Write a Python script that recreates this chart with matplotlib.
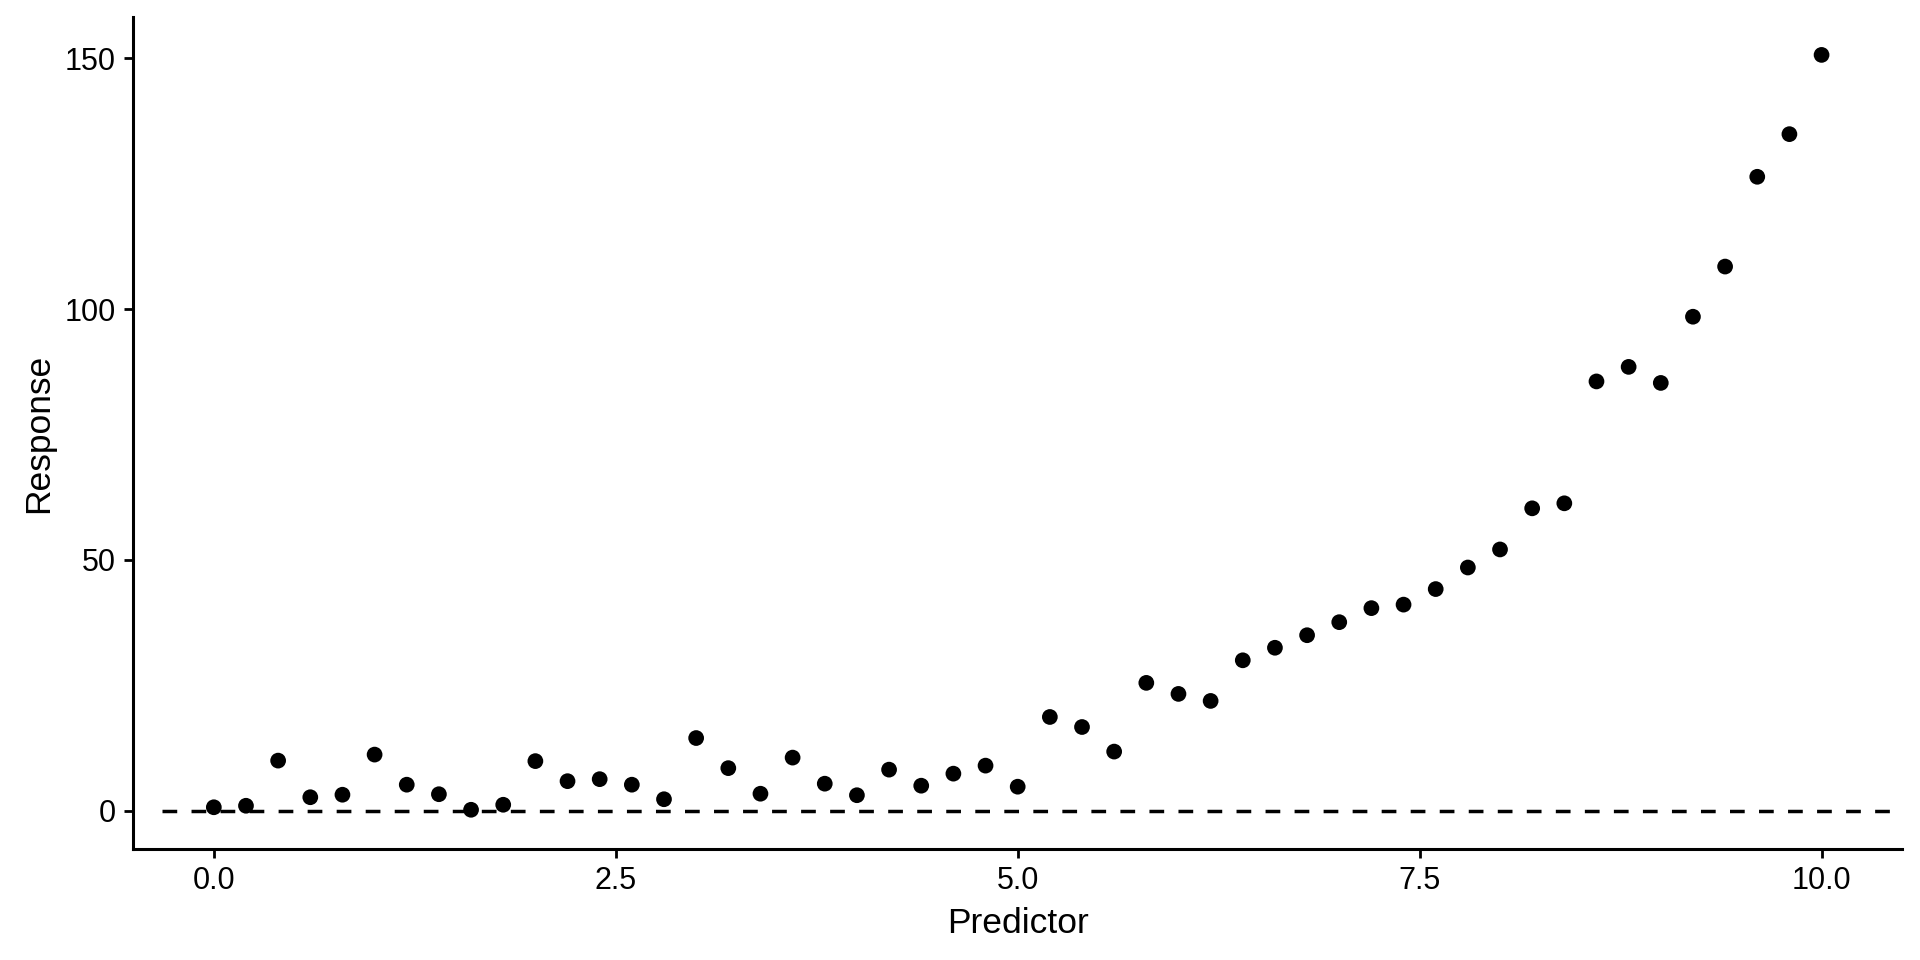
import matplotlib
matplotlib.use("Agg")
import matplotlib.pyplot as plt

predictor = [round(0.2 * i, 1) for i in range(51)]
response = [0.7, 1.0, 10.0, 2.7, 3.2, 11.2, 5.2, 3.3, 0.2, 1.2,
            9.9, 5.9, 6.3, 5.2, 2.3, 14.5, 8.5, 3.4, 10.6, 5.4,
            3.1, 8.2, 5.0, 7.4, 9.0, 4.8, 18.7, 16.7, 11.8, 25.5,
            23.3, 21.9, 30.0, 32.5, 35.0, 37.6, 40.4, 41.1, 44.2, 48.5,
            52.1, 60.3, 61.3, 85.6, 88.5, 85.3, 98.5, 108.5, 126.4, 134.9,
            150.7]
x_ticks = [0.0, 2.5, 5.0, 7.5, 10.0]
x_tick_labels = ["0.0", "2.5", "5.0", "7.5", "10.0"]
y_ticks = [0, 50, 100, 150]
y_tick_labels = ["0", "50", "100", "150"]

plt.rcParams['font.family'] = ['Liberation Sans', 'DejaVu Sans']

fig = plt.figure(figsize=(19.2, 9.6), dpi=100)
ax = fig.add_axes([0.0695, 0.116, 0.9211, 0.866])

lw = 2.5
ax.axhline(0, xmin=0.0161, xmax=1.0, color='black', linewidth=lw,
           linestyle=(0, (10.6 / lw, 10.3 / lw)), zorder=1)
ax.scatter(predictor, response, s=128, color='black', edgecolors='none', zorder=2)

ax.set_xlim(-0.5, 10.5)
ax.set_ylim(-7.55, 158.2)
ax.set_xticks(x_ticks)
ax.set_xticklabels(x_tick_labels)
ax.set_yticks(y_ticks)
ax.set_yticklabels(y_tick_labels)

for side in ['top', 'right']:
    ax.spines[side].set_visible(False)
for side in ['left', 'bottom']:
    ax.spines[side].set_linewidth(2.2)
    ax.spines[side].set_color('black')

ax.tick_params(axis='both', length=6.5, width=2.0, colors='black',
               labelsize=22)
ax.tick_params(axis='y', pad=6.5)
ax.tick_params(axis='x', pad=6.0)
ax.set_xlabel("Predictor", fontsize=25.5)
ax.set_ylabel("Response", fontsize=25.5)
ax.xaxis.set_label_coords(0.5, -0.0698)
ax.yaxis.set_label_coords(-0.0444, 0.5)

fig.savefig("out.png", dpi=100, facecolor='white')
